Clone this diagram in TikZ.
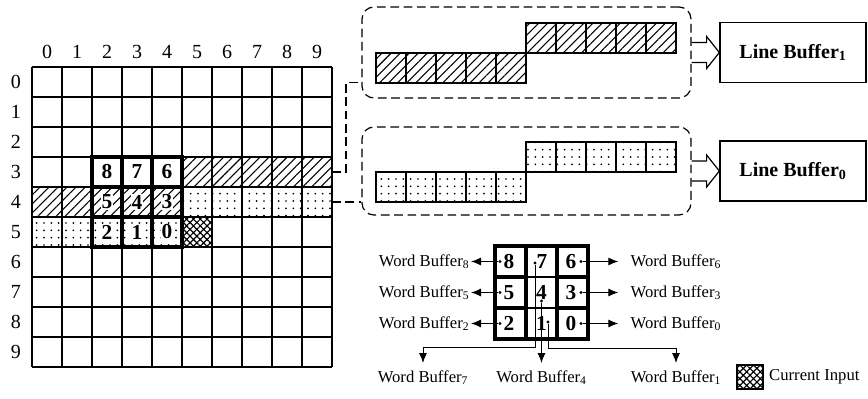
\documentclass[tikz,border=0pt]{standalone}
\usepackage{fontspec}
\setmainfont{Liberation Serif}
\usetikzlibrary{arrows.meta}
\usetikzlibrary{patterns.meta}
\usetikzlibrary{positioning}
\tikzset{
  gcell/.style={line width=1.1pt},
  win/.style={line width=2.6pt, line join=miter},
  hatchpat/.style={pattern={Lines[angle=45,distance=4.8pt,line width=0.8pt]}},
  dotpat/.style={pattern={Dots[distance=5.5pt,radius=0.7pt]}},
  crosspat/.style={pattern={Hatch[angle=45,distance=3.6pt,line width=0.9pt]}},
  idx/.style={font=\fontsize{15}{17}\selectfont},
  num/.style={font=\fontsize{16}{18}\selectfont\bfseries, fill=white, inner sep=0.5pt},
  bnum/.style={font=\fontsize{16}{18}\selectfont\bfseries, inner sep=0pt},
  wbuf/.style={font=\fontsize{12.5}{14}\selectfont, inner sep=1pt},
  lbuf/.style={draw, line width=1pt, minimum width=109.5pt, minimum height=45pt, font=\fontsize{15}{17}\selectfont\bfseries},
  grp/.style={draw, line width=0.9pt, dash pattern=on 6.5pt off 3.5pt, rounded corners=9pt, inner sep=0pt},
  link/.style={line width=0.9pt, dash pattern=on 6.5pt off 3.5pt},
  fat/.style={line width=0.9pt, line join=miter},
  arr/.style={-{Latex[length=7.5pt,width=6pt]}, line width=0.7pt},
  tap/.style={circle, fill, inner sep=0pt, minimum size=2.6pt},
}
\begin{document}
\begin{tikzpicture}[x=0.75pt, y=-0.75pt]
  \useasboundingbox (0,0) rectangle (868,399);
  % image grid
  \fill[hatchpat] (182,157) rectangle (332,187);
  \fill[hatchpat] (32,187) rectangle (182,217);
  \fill[dotpat] (182,187) rectangle (332,217);
  \fill[dotpat] (32,217) rectangle (182,247);
  \fill[crosspat] (182,217) rectangle (212,247);
  \foreach \i in {0,...,10} {
    \draw[gcell] (32+30*\i,67) -- (32+30*\i,367);
    \draw[gcell] (32,67+30*\i) -- (332,67+30*\i);
  }
  \foreach \i in {0,...,9} {
    \node[idx] (col\i) at (47+30*\i,52) {\i};
    \node[idx] (row\i) at (16,82+30*\i) {\i};
  }
  % 3x3 window
  \foreach \c in {0,1,2} \foreach \r in {0,1,2}
    \draw[win] (92+30*\c,157+30*\r) rectangle +(30,30);
  \foreach \n/\c/\r in {8/0/0,7/1/0,6/2/0,5/0/1,4/1/1,3/2/1,2/0/2,1/1/2,0/2/2}
    \node[num] (g\n) at (107+30*\c,172+30*\r) {\n};
  % line buffers
  \node[grp, minimum width=246.75pt, minimum height=68.25pt] (grp1) at (526.5,52.5) {};
  \node[grp, minimum width=246.75pt, minimum height=66pt] (grp0) at (526.5,171) {};
  \foreach \i in {0,...,4} {
    \draw[line width=0.9pt, hatchpat] (376+30*\i,53) rectangle +(30,30);
    \draw[line width=0.9pt, hatchpat] (526+30*\i,23) rectangle +(30,30);
    \draw[line width=0.9pt, dotpat] (376+30*\i,172) rectangle +(30,30);
    \draw[line width=0.9pt, dotpat] (526+30*\i,142) rectangle +(30,30);
  }
  \node[lbuf] (lb1) at (793,52.5) {Line Buffer\textsubscript{1}};
  \node[lbuf] (lb0) at (793,171) {Line Buffer\textsubscript{0}};
  \foreach \a/\b in {grp1/lb1,grp0/lb0}
    \draw[fat] ([yshift=7.5pt]\a.east) -- ++(11.25pt,0) -- ++(0,4.5pt) -- (\b.west)
      -- ([xshift=11.25pt,yshift=-12pt]\a.east) -- ++(0,4.5pt) -- ([yshift=-7.5pt]\a.east);
  \coordinate (r3) at (332,172);
  \coordinate (r4) at (332,202);
  \draw[link] (r3) -- ++(14,0) |- ([yshift=-22.5pt]grp1.west);
  \draw[link] (r4) -- (r4 -| grp0.west);
  % word buffers
  \draw[line width=3pt] (495,246) rectangle (588,339);
  \draw[line width=2.4pt] (526,246) -- (526,339) (557,246) -- (557,339);
  \draw[line width=2.4pt] (495,277) -- (526,277) (557,277) -- (588,277)
    (495,308) -- (526,308) (557,308) -- (588,308);
  \draw[line width=0.9pt] (526,277) -- (557,277) (526,308) -- (557,308);
  \foreach \n/\x/\y in {8/509/261.5,7/542/261.5,6/571/261.5,5/509/292.5,4/541.5/292.5,
      3/571/292.5,2/509/323.5,1/541.5/323.5,0/571/323.5}
    \node[bnum] (b\n) at (\x,\y) {\n};
  \foreach \n/\x/\y in {8/500/261.5,5/500/292.5,2/500/323.5,6/581/261.5,3/581/292.5,
      0/581/323.5,7/535/263,4/541.5/301,1/548/322}
    \node[tap] (d\n) at (\x,\y) {};
  \foreach \n/\y in {8/261.5,5/292.5,2/323.5} {
    \node[wbuf, anchor=east] (wb\n) at (471,\y) {Word Buffer\textsubscript{\n}};
    \draw[arr] (d\n) -- (wb\n);
  }
  \foreach \n/\y in {6/261.5,3/292.5,0/323.5} {
    \node[wbuf, anchor=west] (wb\n) at (629,\y) {Word Buffer\textsubscript{\n}};
    \draw[arr] (d\n) -- ([xshift=-8pt]wb\n.west);
  }
  \node[wbuf, anchor=north] (wb7) at (423,369) {Word Buffer\textsubscript{7}};
  \node[wbuf, anchor=north] (wb4) at (541.5,369) {Word Buffer\textsubscript{4}};
  \node[wbuf, anchor=north] (wb1) at (676,369) {Word Buffer\textsubscript{1}};
  \draw[arr] (d7) -- ++(0,84) -| ([yshift=4.5pt]wb7.north);
  \draw[arr] (d4) -- ([yshift=4.5pt]wb4.north);
  \draw[arr] (d1) -- ++(0,26) -| ([yshift=4.5pt]wb1.north);
  % legend
  \node[draw, crosspat, line width=0.9pt, minimum width=19.5pt, minimum height=18pt, inner sep=0pt] (ci) at (750,377) {};
  \node[wbuf, right=3pt of ci] (cilbl) {Current Input};
\end{tikzpicture}
\end{document}
